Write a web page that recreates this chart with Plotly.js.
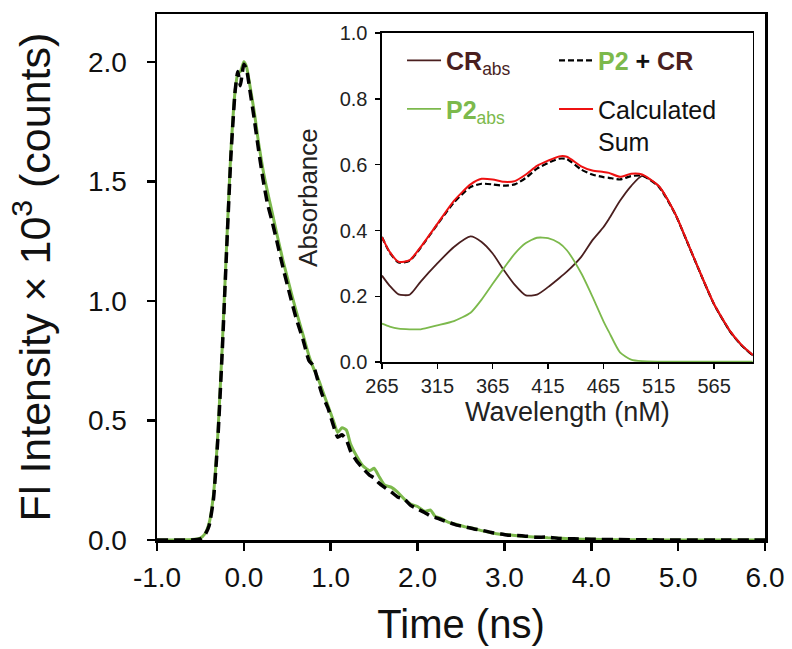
<!DOCTYPE html>
<html>
<head>
<meta charset="utf-8">
<script src="https://cdn.plot.ly/plotly-3.0.1.min.js"></script>
<style>html,body{margin:0;padding:0;background:#fff;}#chart{width:792px;height:649px;}</style>
</head>
<body>
<div id="chart"></div>
<script>
// ---- Main panel: fluorescence decay ----
const timeNs = [-1.0,-0.8,-0.6,-0.5,-0.45,-0.4,-0.35,-0.3,-0.25,-0.2,-0.15,-0.1,-0.07,-0.04,-0.02,0.0,0.03,0.07,0.12,0.17,0.22,0.27,0.32,0.38,0.45,0.52,0.6,0.68,0.75,0.8,0.85,0.9,0.97,1.03,1.08,1.13,1.18,1.23,1.3,1.37,1.45,1.5,1.55,1.62,1.7,1.77,1.85,1.92,2.0,2.08,2.15,2.2,2.27,2.35,2.45,2.55,2.65,2.75,2.85,2.95,3.05,3.2,3.35,3.5,3.65,3.8,4.0,4.3,4.6,5.0,5.5,6.0];
const flGreen = [0,0,0.002,0.008,0.025,0.07,0.19,0.44,0.8,1.22,1.62,1.88,1.95,1.96,1.98,2.0,1.98,1.9,1.79,1.66,1.55,1.46,1.38,1.28,1.17,1.07,0.96,0.86,0.77,0.72,0.68,0.63,0.56,0.5,0.45,0.47,0.46,0.4,0.35,0.31,0.29,0.3,0.27,0.23,0.22,0.2,0.17,0.15,0.14,0.12,0.125,0.1,0.09,0.075,0.065,0.055,0.048,0.038,0.03,0.024,0.022,0.016,0.013,0.009,0.007,0.004,0.003,0.001,0.001,0,0,0];
const flDashed = [0,0,0,0.005,0.02,0.06,0.17,0.42,0.78,1.2,1.6,1.88,1.96,1.9,1.95,1.99,1.97,1.88,1.76,1.63,1.51,1.41,1.34,1.25,1.14,1.04,0.93,0.84,0.75,0.73,0.67,0.61,0.55,0.48,0.43,0.44,0.42,0.37,0.33,0.3,0.27,0.26,0.24,0.22,0.2,0.18,0.17,0.145,0.13,0.115,0.1,0.095,0.085,0.075,0.062,0.055,0.046,0.04,0.031,0.026,0.02,0.018,0.012,0.012,0.006,0.005,0.003,0.002,0.001,0,0,0];
const timeTicks = [-1,0,1,2,3,4,5,6];
const timeTickText = ["-1.0","0.0","1.0","2.0","3.0","4.0","5.0","6.0"];

// ---- Inset: absorbance spectra ----
const wavelength = [265,272,280,290,300,315,330,345,355,365,375,385,395,405,415,425,432,445,455,465,470,480,490,500,515,530,540,550,565,580,590,600];
const crAbs   = [0.263,0.232,0.206,0.205,0.245,0.3,0.35,0.382,0.365,0.33,0.28,0.235,0.203,0.205,0.228,0.255,0.275,0.32,0.37,0.41,0.435,0.49,0.535,0.566,0.535,0.45,0.37,0.29,0.175,0.09,0.05,0.02];
const p2Abs   = [0.117,0.108,0.102,0.1,0.1,0.112,0.125,0.15,0.19,0.238,0.285,0.33,0.362,0.378,0.377,0.362,0.34,0.27,0.2,0.125,0.092,0.03,0.008,0.003,0.002,0.002,0.002,0.002,0.002,0.002,0.002,0.002];
const calcSum = [0.38,0.335,0.305,0.31,0.35,0.42,0.49,0.54,0.557,0.555,0.548,0.55,0.57,0.596,0.612,0.625,0.624,0.595,0.582,0.578,0.575,0.563,0.572,0.57,0.535,0.45,0.372,0.292,0.177,0.092,0.052,0.022];
const p2PlusCr = [0.38,0.333,0.303,0.308,0.348,0.418,0.485,0.532,0.542,0.54,0.536,0.54,0.56,0.588,0.605,0.618,0.617,0.585,0.57,0.562,0.56,0.555,0.565,0.567,0.533,0.449,0.371,0.291,0.176,0.091,0.051,0.021];
const wlTicks = [265,315,365,415,465,515,565];

const FONT = "Liberation Sans, Arial, sans-serif";
const GREEN = "#7cb94c";
const MAROON = "#4a1f1f";

const traces = [
  {x: timeNs, y: flGreen, type: "scatter", mode: "lines", line: {color: GREEN, width: 3, shape: "spline", smoothing: 0.5}, showlegend: false, xaxis: "x", yaxis: "y"},
  {x: timeNs, y: flDashed, type: "scatter", mode: "lines", line: {color: "#000", width: 3.5, dash: "11px,6px", shape: "spline", smoothing: 0.5}, showlegend: false, xaxis: "x", yaxis: "y"},
  {x: wavelength, y: crAbs, type: "scatter", mode: "lines", name: '<b><span style="color:' + MAROON + '">CR</span></b><span style="color:' + MAROON + '"><sub>abs</sub></span>', line: {color: MAROON, width: 1.8, shape: "spline", smoothing: 0.6}, xaxis: "x2", yaxis: "y2", legend: "legend", legendgroup: "a"},
  {x: wavelength, y: p2Abs, type: "scatter", mode: "lines", name: '<b><span style="color:' + GREEN + '">P2</span></b><span style="color:' + GREEN + '"><sub>abs</sub></span>', line: {color: GREEN, width: 1.8, shape: "spline", smoothing: 0.6}, xaxis: "x2", yaxis: "y2", legend: "legend", legendgroup: "b"},
  {x: wavelength, y: p2PlusCr, type: "scatter", mode: "lines", name: '<b><span style="color:' + GREEN + '">P2</span> + <span style="color:' + MAROON + '">CR</span></b>', line: {color: "#000", width: 2.2, dash: "6px,3px", shape: "spline", smoothing: 0.6}, xaxis: "x2", yaxis: "y2", legend: "legend2", legendgroup: "c"},
  {x: wavelength, y: calcSum, type: "scatter", mode: "lines", name: "Calculated<br>Sum", line: {color: "#ee1111", width: 2, shape: "spline", smoothing: 0.6}, xaxis: "x2", yaxis: "y2", legend: "legend2", legendgroup: "d"}
];

const layout = {
  width: 792, height: 649,
  margin: {l: 157, r: 27, t: 14, b: 109},
  paper_bgcolor: "#fff", plot_bgcolor: "#fff",
  font: {family: FONT, color: "#111"},
  xaxis: {
    domain: [0, 1], range: [-1, 6], tickvals: timeTicks, ticktext: timeTickText,
    showgrid: false, zeroline: false, showline: true, linecolor: "#000", linewidth: 2.5, mirror: true,
    ticks: "outside", ticklen: 8, tickwidth: 2.5, tickcolor: "#000", ticklabelstandoff: 3,
    tickfont: {size: 28, family: FONT, color: "#111"},
    title: {text: "Time (ns)", font: {size: 40, family: FONT, color: "#111"}, standoff: 18}
  },
  yaxis: {
    domain: [0, 1], range: [0, 2.2], tickvals: [0, 0.5, 1, 1.5, 2], tickformat: ".1f",
    showgrid: false, zeroline: false, showline: true, linecolor: "#000", linewidth: 2.5, mirror: true,
    ticks: "outside", ticklen: 8, tickwidth: 2.5, tickcolor: "#000", ticklabelstandoff: 14,
    tickfont: {size: 28, family: FONT, color: "#111"},
    title: {text: "Fl Intensity × 10<sup>3</sup> (counts)", font: {size: 43, family: FONT, color: "#111"}, standoff: 24}
  },
  xaxis2: {
    domain: [0.370, 0.980], anchor: "y2", range: [265, 600], tickvals: wlTicks,
    showgrid: false, zeroline: false, showline: true, linecolor: "#000", linewidth: 1.5, mirror: true,
    ticks: "outside", ticklen: 5, tickwidth: 1.5, tickcolor: "#000",
    tickfont: {size: 20, family: FONT, color: "#222"},
    title: {text: "Wavelength (nM)", font: {size: 27, family: FONT, color: "#222"}, standoff: 4}
  },
  yaxis2: {
    domain: [0.338, 0.964], anchor: "x2", range: [0, 1], dtick: 0.2, tickformat: ".1f",
    showgrid: false, zeroline: false, showline: true, linecolor: "#000", linewidth: 1.5, mirror: true,
    ticks: "outside", ticklen: 5, tickwidth: 1.5, tickcolor: "#000", ticklabelstandoff: 4,
    tickfont: {size: 20, family: FONT, color: "#222"},
    title: {text: "Absorbance", font: {size: 26, family: FONT, color: "#222"}, standoff: 14}
  },
  legend: {
    x: 0.403, y: 0.955, xanchor: "left", yanchor: "top", orientation: "v",
    bgcolor: "rgba(0,0,0,0)", borderwidth: 0, tracegroupgap: 13,
    font: {size: 25, family: FONT, color: "#111"}, itemwidth: 34
  },
  legend2: {
    x: 0.653, y: 0.955, xanchor: "left", yanchor: "top", orientation: "v",
    bgcolor: "rgba(0,0,0,0)", borderwidth: 0, tracegroupgap: 13, valign: "top",
    font: {size: 25, family: FONT, color: "#111"}, itemwidth: 34
  }
};

Plotly.newPlot("chart", traces, layout, {displayModeBar: false, staticPlot: true});
</script>
</body>
</html>
